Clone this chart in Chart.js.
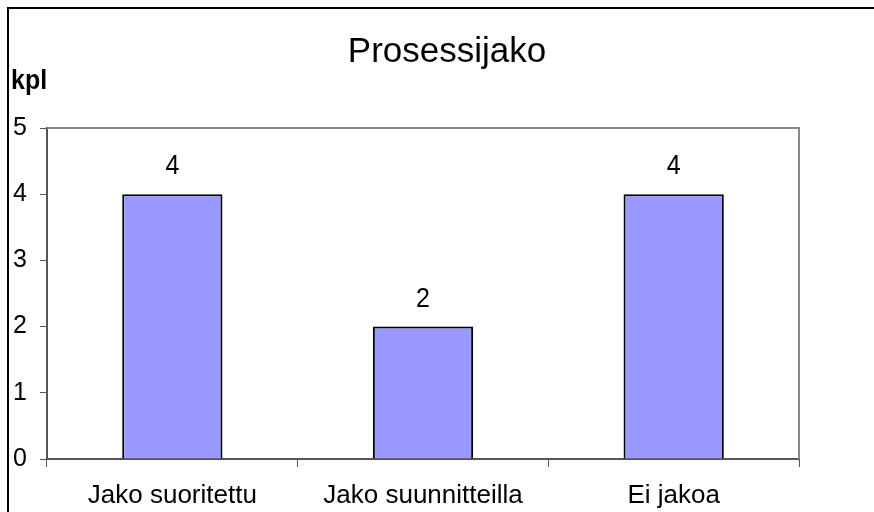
<!DOCTYPE html>
<html>
<head>
<meta charset="utf-8">
<script src="https://cdn.jsdelivr.net/npm/chart.js@4.4.1/dist/chart.umd.min.js"></script>
<style>
  html, body { margin: 0; padding: 0; background: #fff; }
  #wrap { position: relative; width: 874px; height: 512px; }
</style>
</head>
<body>
<div id="wrap"><canvas id="chart" width="874" height="512"></canvas></div>
<script>
const categories = ['Jako suoritettu', 'Jako suunnitteilla', 'Ei jakoa'];
const counts = [4, 2, 4];
const chartTitle = 'Prosessijako';
const unitLabel = 'kpl';

const FONT = "'Liberation Sans', Arial, sans-serif";

// text slightly taller than wide, like the original
function stretchedText(ctx, text, x, y, sy) {
    ctx.save();
    ctx.translate(x, y);
    ctx.scale(1, sy || 1.1);
    ctx.fillText(text, 0, 0);
    ctx.restore();
}

// frame, title, unit label, plot border and value labels
const decorations = {
    id: 'decorations',
    afterDraw(chart) {
        const ctx = chart.ctx;
        const area = chart.chartArea;
        ctx.save();

        // plot area top/right border
        ctx.strokeStyle = '#888';
        ctx.lineWidth = 2;
        ctx.beginPath();
        ctx.moveTo(area.left, area.top);
        ctx.lineTo(area.right, area.top);
        ctx.lineTo(area.right, area.bottom);
        ctx.stroke();

        // outer frame (cropped)
        ctx.strokeStyle = '#000';
        ctx.lineWidth = 2;
        ctx.beginPath();
        ctx.moveTo(8, 512);
        ctx.lineTo(8, 8);
        ctx.lineTo(874, 8);
        ctx.stroke();

        ctx.fillStyle = '#000';
        ctx.textBaseline = 'alphabetic';
        ctx.textAlign = 'center';
        ctx.font = '35px ' + FONT;
        stretchedText(ctx, chartTitle, 447, 62, 1.0);

        ctx.textAlign = 'left';
        ctx.font = 'bold 25px ' + FONT;
        stretchedText(ctx, unitLabel, 11, 89);

        // value labels above bars
        ctx.textAlign = 'center';
        ctx.font = '25px ' + FONT;
        const meta = chart.getDatasetMeta(0);
        meta.data.forEach((bar, i) => {
            stretchedText(ctx, String(counts[i]), bar.x, bar.y - 20);
        });
        ctx.restore();
    }
};

new Chart(document.getElementById('chart'), {
    type: 'bar',
    data: {
        labels: categories,
        datasets: [{
            data: counts,
            backgroundColor: '#9999ff',
            borderColor: '#000',
            borderWidth: 2,
            categoryPercentage: 1,
            barPercentage: 0.4
        }]
    },
    options: {
        responsive: false,
        animation: false,
        layout: { padding: { top: 128, right: 75, left: 0, bottom: 0 } },
        plugins: {
            legend: { display: false },
            title: { display: false },
            tooltip: { enabled: false }
        },
        scales: {
            x: {
                afterFit: scale => { scale.height = 53; },
                grid: {
                    offset: true,
                    drawOnChartArea: false,
                    drawTicks: true,
                    tickLength: 8,
                    color: '#555'
                },
                border: { color: '#555', width: 2 },
                ticks: {
                    color: '#000',
                    padding: 13,
                    font: { family: FONT, size: 26 }
                }
            },
            y: {
                min: 0,
                max: 5,
                afterFit: scale => { scale.width = 47; },
                grid: {
                    drawOnChartArea: false,
                    drawTicks: true,
                    tickLength: 7,
                    color: '#555'
                },
                border: { color: '#555', width: 2 },
                ticks: {
                    stepSize: 1,
                    color: '#000',
                    padding: 13,
                    font: { family: FONT, size: 25 }
                }
            }
        }
    },
    plugins: [decorations]
});
</script>
</body>
</html>
